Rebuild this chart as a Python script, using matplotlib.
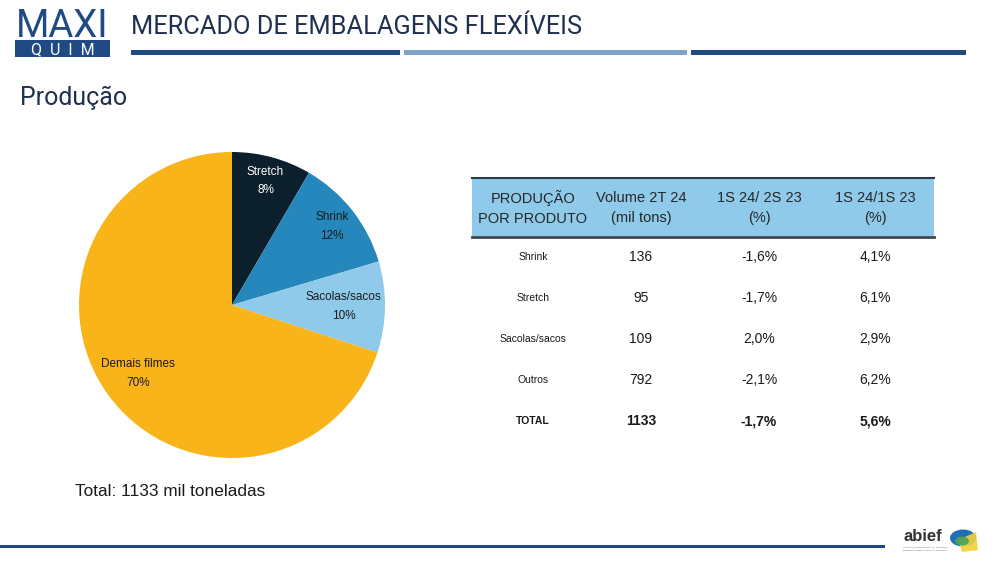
import matplotlib
matplotlib.use("Agg")
import numpy as np
import matplotlib.pyplot as plt
from matplotlib.patches import Rectangle, Ellipse, Polygon

# ---------------- data ----------------
pie_labels = ["Stretch", "Shrink", "Sacolas/sacos", "Demais filmes"]
pie_values = [95, 136, 109, 792]
pie_colors = ["#0B1F2D", "#2587BC", "#8FCAEA", "#F8B419"]
pie_text_colors = ["white", "#1a1a1a", "#1a1a1a", "#1a1a1a"]
pie_label_r = [0.84, 0.83, 0.73, 0.76]

table_header = ["PRODUÇÃO\nPOR PRODUTO", "Volume 2T 24\n(mil tons)", "1S 24/ 2S 23\n(%)", "1S 24/1S 23\n(%)"]
table_products = ["Shrink", "Stretch", "Sacolas/sacos", "Outros", "TOTAL"]
table_volume = ["136", "95", "109", "792", "1133"]
table_var_2s = ["-1,6%", "-1,7%", "2,0%", "-2,1%", "-1,7%"]
table_var_1s = ["4,1%", "6,1%", "2,9%", "6,2%", "5,6%"]

title = "MERCADO DE EMBALAGENS FLEXÍVEIS"
subtitle = "Produção"
total_note = "Total: 1133 mil toneladas"

W, H = 1000, 563
fig = plt.figure(figsize=(W / 100, H / 100), dpi=100)
fig.patch.set_facecolor("white")

# overlay axes in pixel coordinates
ov = fig.add_axes([0, 0, 1, 1])
ov.set_xlim(0, W)
ov.set_ylim(H, 0)
ov.axis("off")

NAVY = "#1F4A84"
TITLE_FONT = ["Roboto", "DejaVu Sans"]

# logo
ov.text(62.5, 37, "MAXI", ha="center", va="baseline", fontsize=27.5, color=NAVY,
        family=TITLE_FONT)
ov.add_patch(Rectangle((15, 40), 95, 17, color=NAVY, lw=0))
ov.text(62.5, 49.5, "Q  U  I  M", ha="center", va="center", fontsize=11.5, color="white",
        family=TITLE_FONT)

# title and rules
ov.text(131, 27, title, ha="left", va="center", fontsize=18.3, color="#1F3050",
        family=TITLE_FONT)
ov.add_patch(Rectangle((131, 50), 269, 5, color=NAVY, lw=0))
ov.add_patch(Rectangle((404, 50), 283, 5, color="#7FA3C6", lw=0))
ov.add_patch(Rectangle((691, 50), 275, 5, color=NAVY, lw=0))

ov.text(20, 98, subtitle, ha="left", va="center", fontsize=18, color="#1F3050",
        family=TITLE_FONT)

# bottom rule
ov.add_patch(Rectangle((0, 545), 885, 3, color=NAVY, lw=0))

# abief logo (approximation)
ov.text(903, 541, "abief", ha="left", va="baseline", fontsize=12, color="#333333",
        family=["Liberation Sans", "DejaVu Sans"], fontweight="bold")
ov.add_patch(Ellipse((963, 538), 26, 17, color="#1E6FB5", lw=0))
ov.add_patch(Polygon([[958, 540], [976, 532], [978, 550], [962, 552]], closed=True,
                     color="#F2D13A", lw=0, alpha=0.9))
ov.add_patch(Ellipse((962, 541), 14, 9, color="#4CA35A", lw=0, alpha=0.9))
ov.text(903, 546, "ASSOCIAÇÃO BRASILEIRA DA INDÚSTRIA", fontsize=1.6, color="#555555", va="top")
ov.text(903, 549, "DE EMBALAGENS PLÁSTICAS FLEXÍVEIS", fontsize=1.6, color="#555555", va="top")

# total note
ov.text(75, 491, total_note, ha="left", va="center", fontsize=12.4, color="#1a1a1a",
        family=["Liberation Sans", "DejaVu Sans"])

# ---------------- pie ----------------
cx, cy, R = 232, 305, 153
pax = fig.add_axes([(cx - R) / W, (H - cy - R) / H, 2 * R / W, 2 * R / H])
wedges, texts = pax.pie(pie_values, colors=pie_colors, startangle=90, counterclock=False,
                        labels=[f"{l}\n{round(v / sum(pie_values) * 100)}%" for l, v in zip(pie_labels, pie_values)],
                        labeldistance=0.8,
                        wedgeprops=dict(linewidth=0),
                        textprops=dict(fontsize=8.5, family=["Liberation Sans", "DejaVu Sans"],
                                       linespacing=1.75))
for w, t, c, r in zip(wedges, texts, pie_text_colors, pie_label_r):
    ang = np.deg2rad((w.theta1 + w.theta2) / 2)
    t.set_position((r * np.cos(ang), r * np.sin(ang)))
    t.set_color(c)
    t.set_ha("center")
    t.set_va("center")
pax.set_xlim(-1, 1)
pax.set_ylim(-1, 1)
pax.axis("off")

# ---------------- table ----------------
TF = ["Liberation Sans", "DejaVu Sans"]
x0, x1 = 472, 934
ov.add_patch(Rectangle((x0, 178), x1 - x0, 58, color="#8FCAEA", lw=0))
ov.plot([x0, x1], [178, 178], color="#2B3A47", lw=1.5)
ov.plot([x0, x1], [236.5, 236.5], color="#3C4650", lw=2)
col_x = [533, 641, 759, 875]
for x, h in zip(col_x, table_header):
    ov.text(x, 208, h, ha="center", va="center", fontsize=10.5, color="#262626",
            family=TF, linespacing=1.5)
row_y = [257, 298, 339, 380, 421]
for i, y in enumerate(row_y):
    bold = table_products[i] == "TOTAL"
    fw = "bold" if bold else "normal"
    ov.text(col_x[0], y, table_products[i], ha="center", va="center", fontsize=7.5,
            color="#1a1a1a", family=TF, fontweight=fw)
    for x, v in zip(col_x[1:], [table_volume[i], table_var_2s[i], table_var_1s[i]]):
        ov.text(x, y, v, ha="center", va="center", fontsize=10, color="#1a1a1a",
                family=TF, fontweight=fw)

fig.savefig("out.png", dpi=100, facecolor="white")
